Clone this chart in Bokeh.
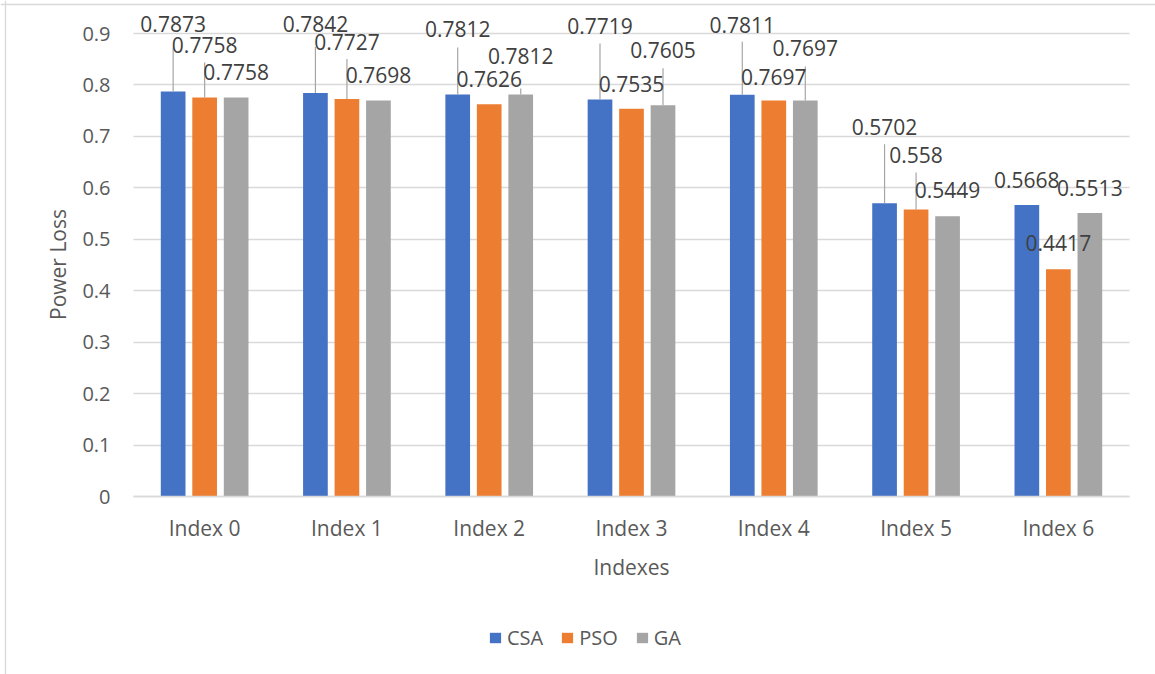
from bokeh.plotting import figure
from bokeh.models import FixedTicker, Legend, LegendItem, Label, Span, ColumnDataSource
from bokeh.embed import file_html
from bokeh.resources import INLINE
from bokeh.core.properties import value

# ---------------- data ----------------
categories = ["Index 0", "Index 1", "Index 2", "Index 3", "Index 4", "Index 5", "Index 6"]
series_names = ["CSA", "PSO", "GA"]
csa = [0.7873, 0.7842, 0.7812, 0.7719, 0.7811, 0.5702, 0.5668]
pso = [0.7758, 0.7727, 0.7626, 0.7535, 0.7697, 0.558, 0.4417]
ga = [0.7758, 0.7698, 0.7812, 0.7605, 0.7697, 0.5449, 0.5513]
y_ticks = [0, 0.1, 0.2, 0.3, 0.4, 0.5, 0.6, 0.7, 0.8, 0.9]
y_tick_labels = ["0", "0.1", "0.2", "0.3", "0.4", "0.5", "0.6", "0.7", "0.8", "0.9"]
x_title = "Indexes"
y_title = "Power Loss"

# ---------------- label placement (screen px relative to bar top) ----------------
label_dy = {
    "CSA": [-67, -69, -66, -73, -70, -76, -25],
    "PSO": [-52, -57, -25, -25, -24, -54, -26],
    "GA": [-25, -25, -39, -55, -53, -26, -25],
}
leader_dy = {
    "CSA": [-44, -46, -47, -56, -53, -59, None],
    "PSO": [-35, -40, None, None, None, -37, None],
    "GA": [None, None, -6, -37, -34, None, None],
}

# ---------------- style / layout ----------------
colors = {"CSA": "#4472C4", "PSO": "#ED7D31", "GA": "#A5A5A5"}
offsets = {"CSA": -0.2214, "PSO": 0.0, "GA": 0.2214}
bar_width = 0.1735
W, H = 1155, 674
PLOT_L, PLOT_R, ZERO_Y = 133, 1129, 496          # plot-area pixel geometry
px_per_unit = 463 / 0.9
n = len(categories)
px_per_cat = (PLOT_R - PLOT_L) / n
TXT = "#595959"
FONT = "Open Sans"


def X(px):
    return (px - PLOT_L) / px_per_cat


def Y(py):
    return (ZERO_Y - py) / px_per_unit


p = figure(width=W, height=H, x_range=(X(0), X(W)), y_range=(Y(H), Y(0)),
           output_backend="svg", toolbar_location=None,
           min_border=0, min_border_left=0, min_border_right=0,
           min_border_top=0, min_border_bottom=0)
p.outline_line_color = None
p.background_fill_color = "white"
p.border_fill_color = "white"

# light chart-area border (top & left edges)
p.add_layout(Span(location=Y(4), dimension="width", line_color="#D9D9D9", line_width=1.3))
p.add_layout(Span(location=X(5), dimension="height", line_color="#D9D9D9", line_width=1.3))

# gridlines limited to the plot area
grid = p.ygrid[0]
grid.ticker = FixedTicker(ticks=y_ticks)
grid.grid_line_color = "#D9D9D9"
grid.grid_line_width = 1.3
if "cross_bounds" in grid.properties():
    grid.cross_bounds = (0, n)
else:
    grid.visible = False
    p.segment(x0=[0] * len(y_ticks), y0=y_ticks, x1=[n] * len(y_ticks), y1=y_ticks,
              line_color="#D9D9D9", line_width=1.3)
p.xgrid.visible = False

series = {"CSA": csa, "PSO": pso, "GA": ga}
renderers = {}
lab_x, lab_y, lab_t, lab_dy = [], [], [], []
ld_x, ld_y0, ld_y1 = [], [], []
for name in series_names:
    vals = series[name]
    xs = [i + 0.5 + offsets[name] for i in range(n)]
    src = ColumnDataSource(dict(x=xs, top=vals))
    r = p.vbar(x="x", top="top", width=bar_width, source=src,
               fill_color=colors[name], line_color=None)
    renderers[name] = r
    for i, v in enumerate(vals):
        lab_x.append(xs[i])
        lab_y.append(v)
        lab_t.append(str(v))
        lab_dy.append(label_dy[name][i])
        d = leader_dy[name][i]
        if d is not None:
            ld_x.append(xs[i])
            ld_y0.append(v)
            ld_y1.append(v - d / px_per_unit)

p.segment(x0=ld_x, y0=ld_y0, x1=ld_x, y1=ld_y1, line_color="#A6A6A6", line_width=1.2)

lsrc = ColumnDataSource(dict(x=lab_x, y=lab_y, text=lab_t, dy=lab_dy))
p.text(x="x", y="y", text="text", y_offset="dy", source=lsrc,
       text_align="center", text_baseline="middle",
       text_font_size="21px", text_color="#404040", text_font=value(FONT))

# x axis drawn at y = 0
xa = p.xaxis[0]
xa.fixed_location = 0
xa.bounds = (0, n)
xa.ticker = FixedTicker(ticks=[i + 0.5 for i in range(n)])
xa.major_label_overrides = {i + 0.5: c for i, c in enumerate(categories)}
xa.axis_line_color = "#D9D9D9"
xa.axis_line_width = 1.3
xa.major_tick_line_color = None
xa.minor_tick_line_color = None
xa.major_tick_out = 0
xa.major_tick_in = 0
xa.major_label_standoff = 17
xa.major_label_text_font = FONT
xa.major_label_text_font_size = "21px"
xa.major_label_text_color = TXT

# y axis drawn at x = 0
ya = p.yaxis[0]
ya.fixed_location = 0
ya.bounds = (0, 0.9)
ya.ticker = FixedTicker(ticks=y_ticks)
ya.major_label_overrides = {t: l for t, l in zip(y_ticks, y_tick_labels)}
ya.axis_line_color = None
ya.major_tick_line_color = None
ya.minor_tick_line_color = None
ya.major_tick_out = 0
ya.major_tick_in = 0
ya.major_label_standoff = 23
ya.major_label_text_font = FONT
ya.major_label_text_font_size = "20px"
ya.major_label_text_color = TXT

# axis titles
p.add_layout(Label(x=X(57), y=Y(264), text=y_title, angle=90, angle_units="deg",
                   text_align="center", text_baseline="middle",
                   text_font=FONT, text_font_size="21px", text_color=TXT))
p.add_layout(Label(x=(0 + n) / 2, y=Y(566), text=x_title,
                   text_align="center", text_baseline="middle",
                   text_font=FONT, text_font_size="21px", text_color=TXT))

legend = Legend(items=[LegendItem(label=s, renderers=[renderers[s]]) for s in series_names],
                orientation="horizontal", location=(488, H - 651),
                glyph_width=14, glyph_height=13, label_standoff=5, spacing=17,
                padding=0, margin=0, border_line_color=None, background_fill_alpha=0,
                label_text_font=FONT, label_text_font_size="20px", label_text_color=TXT,
                label_height=20)
p.add_layout(legend)

open("out.html", "w").write(file_html(p, INLINE))
